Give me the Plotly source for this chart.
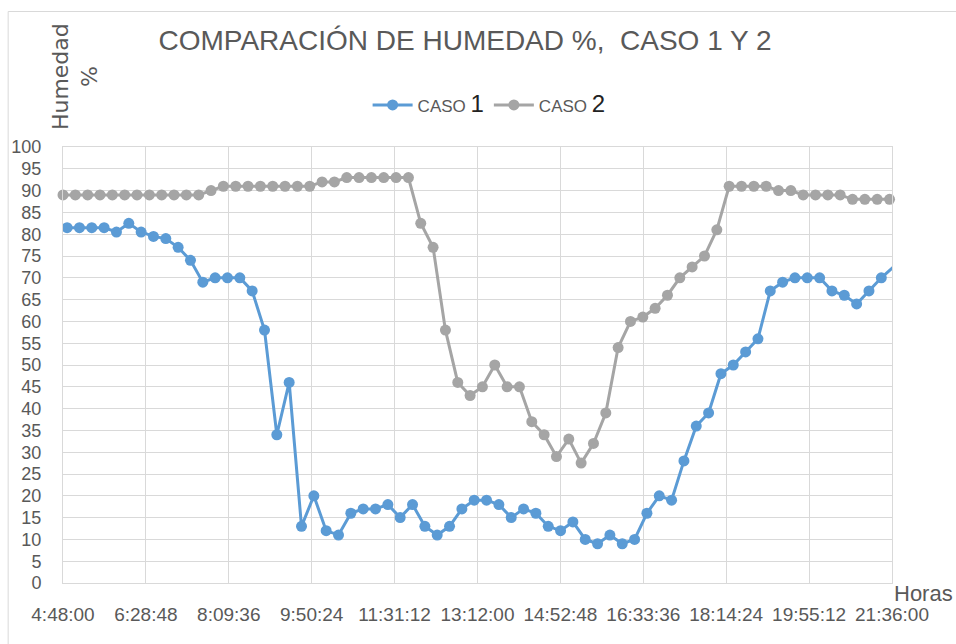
import plotly.graph_objects as go

# ---------------- data ----------------
hora_caso1 = ["4:53", "5:08", "5:23", "5:38", "5:53", "6:08", "6:23", "6:38", "6:53", "7:08", "7:23", "7:38",
              "7:53", "8:08", "8:23", "8:38", "8:53", "9:08", "9:23", "9:38", "9:53", "10:08", "10:23", "10:38",
              "10:53", "11:08", "11:23", "11:38", "11:53", "12:08", "12:23", "12:38", "12:53", "13:08", "13:23",
              "13:38", "13:53", "14:08", "14:23", "14:38", "14:53", "15:08", "15:23", "15:38", "15:53", "16:08",
              "16:23", "16:38", "16:53", "17:08", "17:23", "17:38", "17:53", "18:08", "18:23", "18:38", "18:53",
              "19:08", "19:23", "19:38", "19:53", "20:08", "20:23", "20:38", "20:53", "21:08", "21:23", "21:38"]
humedad_caso1 = [81.5, 81.5, 81.5, 81.5, 80.5, 82.5, 80.5, 79.5, 79, 77, 74, 69,
                 70, 70, 70, 67, 58, 34, 46, 13, 20, 12, 11, 16,
                 17, 17, 18, 15, 18, 13, 11, 13, 17, 19, 19,
                 18, 15, 17, 16, 13, 12, 14, 10, 9, 11, 9,
                 10, 16, 20, 19, 28, 36, 39, 48, 50, 53, 56,
                 67, 69, 70, 70, 70, 67, 66, 64, 67, 70, 72.5]

hora_caso2 = ["4:48", "5:03", "5:18", "5:33", "5:48", "6:03", "6:18", "6:33", "6:48", "7:03", "7:18", "7:33",
              "7:48", "8:03", "8:18", "8:33", "8:48", "9:03", "9:18", "9:33", "9:48", "10:03", "10:18", "10:33",
              "10:48", "11:03", "11:18", "11:33", "11:48", "12:03", "12:18", "12:33", "12:48", "13:03", "13:18",
              "13:33", "13:48", "14:03", "14:18", "14:33", "14:48", "15:03", "15:18", "15:33", "15:48", "16:03",
              "16:18", "16:33", "16:48", "17:03", "17:18", "17:33", "17:48", "18:03", "18:18", "18:33", "18:48",
              "19:03", "19:18", "19:33", "19:48", "20:03", "20:18", "20:33", "20:48", "21:03", "21:18", "21:33"]
humedad_caso2 = [89, 89, 89, 89, 89, 89, 89, 89, 89, 89, 89, 89,
                 90, 91, 91, 91, 91, 91, 91, 91, 91, 92, 92, 93,
                 93, 93, 93, 93, 93, 82.5, 77, 58, 46, 43, 45,
                 50, 45, 45, 37, 34, 29, 33, 27.5, 32, 39, 54,
                 60, 61, 63, 66, 70, 72.5, 75, 81, 91, 91, 91,
                 91, 90, 90, 89, 89, 89, 89, 88, 88, 88, 88]

ticks_x = ["4:48:00", "6:28:48", "8:09:36", "9:50:24", "11:31:12", "13:12:00",
           "14:52:48", "16:33:36", "18:14:24", "19:55:12", "21:36:00"]
ticks_y = list(range(0, 101, 5))

title_text = "COMPARACIÓN DE HUMEDAD %,\u00a0 CASO 1 Y 2"


def to_hours(s):
    parts = [int(p) for p in s.split(":")]
    while len(parts) < 3:
        parts.append(0)
    return parts[0] + parts[1] / 60 + parts[2] / 3600


FONT = "Liberation Sans, Arial, sans-serif"
TXT = "#595959"
GRID = "#d9d9d9"
BLUE = "#5B9BD5"
GREY = "#A5A5A5"

fig = go.Figure()
fig.add_trace(go.Scatter(
    x=[to_hours(t) for t in hora_caso1], y=humedad_caso1,
    mode="lines+markers",
    name="CASO <span style='font-size:24px;color:#222'>1</span>",
    line=dict(color=BLUE, width=3),
    marker=dict(color=BLUE, size=11),
    cliponaxis=True,
))
fig.add_trace(go.Scatter(
    x=[to_hours(t) for t in hora_caso2], y=humedad_caso2,
    mode="lines+markers",
    name="CASO <span style='font-size:24px;color:#222'>2</span>",
    line=dict(color=GREY, width=3),
    marker=dict(color=GREY, size=11),
    cliponaxis=False,
))

tickvals_x = [to_hours(t) for t in ticks_x]

fig.update_layout(
    width=956, height=644,
    margin=dict(l=63, r=64, t=147, b=61),
    paper_bgcolor="white", plot_bgcolor="white",
    title=dict(text=title_text, x=465 / 956, xanchor="center", xref="container",
               y=1 - 40 / 644, yanchor="middle", yref="container",
               font=dict(family=FONT, size=28, color=TXT)),
    showlegend=True,
    legend=dict(orientation="h", x=0.514, xanchor="center", y=1.0955, yanchor="middle",
                font=dict(family=FONT, size=17, color=TXT), itemwidth=40,
                bgcolor="rgba(0,0,0,0)"),
    xaxis=dict(range=[tickvals_x[0], tickvals_x[-1]], tickmode="array",
               tickvals=tickvals_x, ticktext=ticks_x, tickangle=0,
               showgrid=True, gridcolor=GRID, gridwidth=1,
               showline=True, linecolor=GRID, linewidth=1, mirror=True,
               zeroline=False, ticks="", ticklabelstandoff=14,
               tickfont=dict(family=FONT, size=19, color=TXT)),
    yaxis=dict(range=[0, 100], tickmode="array", tickvals=ticks_y,
               ticktext=[str(v) for v in ticks_y],
               showgrid=True, gridcolor=GRID, gridwidth=1,
               showline=True, linecolor=GRID, linewidth=1, mirror=True,
               zeroline=False, ticks="", ticklabelstandoff=17,
               tickfont=dict(family=FONT, size=18, color=TXT)),
    annotations=[
        dict(text="Humedad<br>%", textangle=-90, xref="paper", yref="paper",
             x=(76 - 63.3) / 828.4, y=(583.3 - 76) / 436.6, xanchor="center", yanchor="middle",
             showarrow=False, font=dict(family="DejaVu Sans", size=22, color=TXT)),
        dict(text="Horas", xref="paper", yref="paper",
             x=(923 - 63.3) / 828.4, y=(583.3 - 594) / 436.6, xanchor="center", yanchor="middle",
             showarrow=False, font=dict(family=FONT, size=22, color=TXT)),
    ],
    shapes=[dict(type="rect", xref="paper", yref="paper",
                 x0=(8.5 - 63.3) / 828.4, x1=(962 - 63.3) / 828.4,
                 y0=(583.3 - 652) / 436.6, y1=(583.3 - 11) / 436.6,
                 line=dict(color=GRID, width=1), fillcolor="rgba(0,0,0,0)", layer="below")],
)

fig.write_html("out.html", config={"displayModeBar": False},
               post_script="document.body.style.margin='0';document.body.style.overflow='hidden';")
